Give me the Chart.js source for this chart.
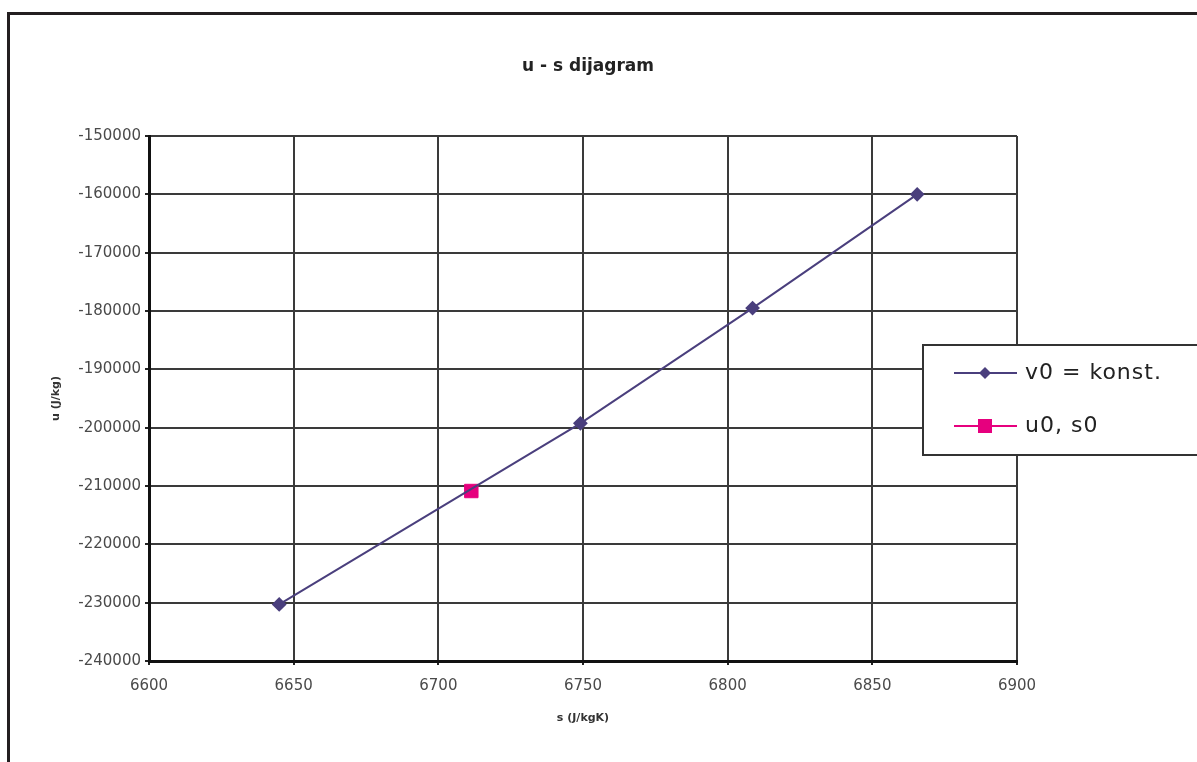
<!DOCTYPE html>
<html>
<head>
<meta charset="utf-8">
<script src="https://cdn.jsdelivr.net/npm/chart.js@4.4.1/dist/chart.umd.min.js"></script>
<style>
  html, body { margin: 0; padding: 0; background: #ffffff; }
  #wrap { position: relative; width: 1197px; height: 762px; overflow: hidden; background: #ffffff; }
  #frame { position: absolute; left: 7px; top: 12px; width: 1200px; height: 760px;
           border-left: 3px solid #231f20; border-top: 3px solid #231f20; box-sizing: border-box; }
  #c { position: absolute; left: 0; top: 0; }
</style>
</head>
<body>
<div id="wrap">
  <div id="frame"></div>
  <canvas id="c" width="1197" height="762"></canvas>
</div>
<script>
// ---- data ----
const chartTitle = 'u - s dijagram';
const xAxisTitle = 's (J/kgK)';
const yAxisTitle = 'u (J/kg)';
const seriesNames = ['v0 = konst.', 'u0, s0'];
const sLine = [6645.0, 6749.1, 6808.6, 6865.5];
const uLine = [-230300, -199250, -179500, -160000];
const sPoint = [6711.4];
const uPoint = [-210860];
const xTicksMin = 6600, xTicksMax = 6900, xStep = 50;
const yTicksMin = -240000, yTicksMax = -150000, yStep = 10000;

const lineColor = '#4a3f7d';
const pinkColor = '#e6007e';

const toPts = (xs, ys) => xs.map((x, i) => ({ x: x, y: ys[i] }));

const titleAndLegend = {
  id: 'titleAndLegend',
  afterDraw(chart) {
    const ctx = chart.ctx;
    ctx.save();
    // title
    ctx.fillStyle = '#222';
    ctx.font = 'bold 17px "DejaVu Sans"';
    ctx.textAlign = 'center';
    ctx.textBaseline = 'middle';
    ctx.fillText(chartTitle, 588, 67);

    // legend box
    const bx = 923, by = 345, bw = 280, bh = 110;
    ctx.fillStyle = '#ffffff';
    ctx.fillRect(bx, by, bw, bh);
    ctx.strokeStyle = '#333';
    ctx.lineWidth = 2;
    ctx.strokeRect(bx, by, bw, bh);

    const rows = [
      { y: 373, ds: chart.data.datasets[0] },
      { y: 426, ds: chart.data.datasets[1] }
    ];
    rows.forEach((r, i) => {
      ctx.strokeStyle = r.ds.borderColor;
      ctx.lineWidth = 2;
      ctx.beginPath();
      ctx.moveTo(954, r.y);
      ctx.lineTo(1017, r.y);
      ctx.stroke();
      ctx.fillStyle = r.ds.pointBackgroundColor;
      ctx.beginPath();
      if (i === 0) {
        ctx.moveTo(985, r.y - 6); ctx.lineTo(991, r.y); ctx.lineTo(985, r.y + 6); ctx.lineTo(979, r.y);
        ctx.closePath();
      } else {
        ctx.rect(978, r.y - 7, 14, 14);
      }
      ctx.fill();
      ctx.fillStyle = '#222';
      ctx.font = '22px "DejaVu Sans"';
      ctx.textAlign = 'left';
      ctx.textBaseline = 'middle';
      try { ctx.letterSpacing = '1px'; } catch (e) {}
      ctx.fillText(seriesNames[i], 1025, r.y);
      try { ctx.letterSpacing = '0px'; } catch (e) {}
    });
    ctx.restore();
  }
};

new Chart(document.getElementById('c'), {
  type: 'scatter',
  data: {
    datasets: [
      {
        label: seriesNames[0],
        data: toPts(sLine, uLine),
        showLine: true,
        borderColor: lineColor,
        backgroundColor: lineColor,
        pointBackgroundColor: lineColor,
        pointBorderColor: lineColor,
        pointStyle: 'rectRot',
        pointRadius: 6,
        borderWidth: 2,
        tension: 0
      },
      {
        label: seriesNames[1],
        data: toPts(sPoint, uPoint),
        showLine: false,
        borderColor: pinkColor,
        backgroundColor: pinkColor,
        pointBackgroundColor: pinkColor,
        pointBorderColor: pinkColor,
        pointStyle: 'rect',
        pointRadius: 9.5
      }
    ]
  },
  options: {
    responsive: false,
    animation: false,
    events: [],
    layout: { padding: { left: 0, top: 136, right: 180, bottom: 0 } },
    plugins: {
      legend: { display: false },
      title: { display: false },
      tooltip: { enabled: false }
    },
    scales: {
      x: {
        type: 'linear',
        min: xTicksMin, max: xTicksMax,
        afterFit(scale) { scale.height = 101; },
        ticks: {
          stepSize: xStep,
          color: '#4a4a4a',
          font: { family: '"DejaVu Sans"', size: 15 },
          padding: 12,
          maxRotation: 0,
          callback: (v) => String(v)
        },
        grid: { color: '#3a3a3a', lineWidth: 2, tickLength: 4, tickColor: '#222' },
        border: { color: '#111', width: 3 },
        title: {
          display: true, text: xAxisTitle, color: '#333',
          font: { family: '"DejaVu Sans"', size: 11, weight: 'bold' },
          padding: { top: 0, bottom: 37 }
        }
      },
      y: {
        type: 'linear',
        min: yTicksMin, max: yTicksMax,
        afterFit(scale) { scale.width = 149; },
        ticks: {
          stepSize: yStep,
          color: '#4a4a4a',
          font: { family: '"DejaVu Sans"', size: 15 },
          padding: 4,
          callback: (v) => String(v)
        },
        grid: { color: '#3a3a3a', lineWidth: 2, tickLength: 4, tickColor: '#222' },
        border: { color: '#111', width: 3 },
        title: {
          display: true, text: yAxisTitle, color: '#333',
          font: { family: '"DejaVu Sans"', size: 11, weight: 'bold' },
          padding: { top: 50, bottom: 0 }
        }
      }
    }
  },
  plugins: [titleAndLegend]
});
</script>
</body>
</html>
